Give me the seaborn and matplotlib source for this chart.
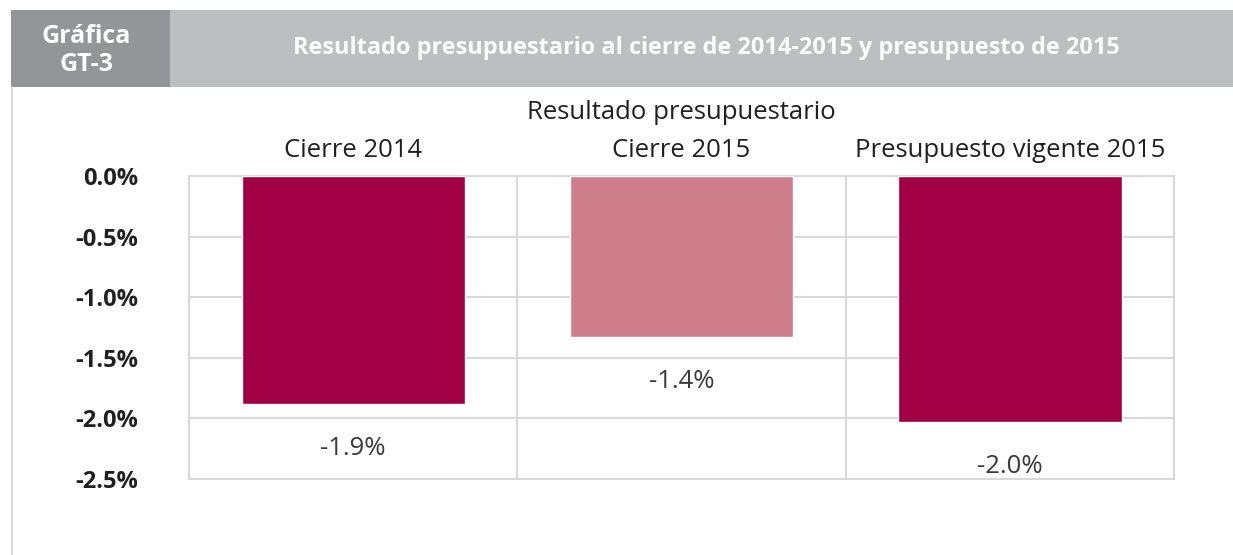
import matplotlib.pyplot as plt
import matplotlib.patches as patches
import numpy as np
import pandas as pd
import seaborn as sns
from matplotlib.ticker import FixedLocator, FuncFormatter

# datos
categorias = ["Cierre 2014", "Cierre 2015", "Presupuesto vigente 2015"]
resultado = [-1.88, -1.33, -2.03]
etiquetas = ["-1.9%", "-1.4%", "-2.0%"]
colores = ["#a20044", "#cd7e8a", "#a20044"]
yticks = [0.0, -0.5, -1.0, -1.5, -2.0, -2.5]

titulo = "Resultado presupuestario al cierre de 2014-2015 y presupuesto de 2015"
eje_titulo = "Resultado presupuestario"

df = pd.DataFrame({"categoria": categorias, "valor": resultado})

sns.set_theme(style="white")
plt.rcParams["font.family"] = ["Open Sans", "DejaVu Sans"]

fig = plt.figure(figsize=(12.33, 5.55), dpi=100)
ax = fig.add_axes((0.1533, 0.1369, 0.7989, 0.546))

sns.barplot(
    data=df,
    x="categoria",
    y="valor",
    hue="categoria",
    palette=colores,
    legend=False,
    width=0.68,
    saturation=1,
    ax=ax,
    zorder=3,
)

ax.set_ylim(-2.5, 0)
ax.set_xlim(-0.5, len(categorias) - 0.5)

# rejilla gris
grid_color = "#d9d9d9"
ax.yaxis.set_major_locator(FixedLocator(yticks))
ax.yaxis.set_major_formatter(FuncFormatter(lambda v, p: f"{v:.1f}%"))
ax.xaxis.set_minor_locator(FixedLocator(np.arange(len(categorias) + 1) - 0.5))
ax.grid(axis="y", which="major", color=grid_color, linewidth=1.5, zorder=0)
ax.grid(axis="x", which="minor", color=grid_color, linewidth=1.5, zorder=0)
for s in ax.spines.values():
    s.set_visible(True)
    s.set_color(grid_color)
    s.set_linewidth(1.5)

# categorias arriba
ax.xaxis.tick_top()
ax.xaxis.set_label_position("top")
ax.tick_params(axis="x", which="both", length=0, pad=9, labelsize=18.5, labelcolor="#231f20")
ax.tick_params(axis="y", length=0, pad=36.5, labelsize=17, labelcolor="#231f20")
for lab in ax.get_yticklabels():
    lab.set_fontweight("bold")
ax.set_xlabel(eje_titulo, fontsize=18.5, color="#231f20", labelpad=14)
ax.set_ylabel("")

# etiquetas de datos
for i, (v, t) in enumerate(zip(resultado, etiquetas)):
    ax.annotate(t, xy=(i, v), xytext=(0, -32), textcoords="offset points",
                ha="center", va="center", fontsize=18.5, color="#3a3a3a")

# encabezado
fig.patches.append(patches.Rectangle((0.0089, 0.8432), 0.129, 0.1388, transform=fig.transFigure,
                                     facecolor="#939598", edgecolor="none"))
fig.patches.append(patches.Rectangle((0.1379, 0.8432), 0.8621, 0.1388, transform=fig.transFigure,
                                     facecolor="#bcbec0", edgecolor="none"))
fig.lines.append(plt.Line2D([0.0097, 0.0097], [0, 0.8432], transform=fig.transFigure,
                            color="#d4d4d4", linewidth=1.2))
fig.text(0.0702, 0.934, "Gráfica", ha="center", va="center", color="white",
         fontsize=18, fontweight="bold")
fig.text(0.0702, 0.884, "GT-3", ha="center", va="center", color="white",
         fontsize=18, fontweight="bold")
fig.text(0.5726, 0.914, titulo, ha="center", va="center", color="white",
         fontsize=16.9, fontweight="bold")

fig.savefig("out.png", dpi=100)
